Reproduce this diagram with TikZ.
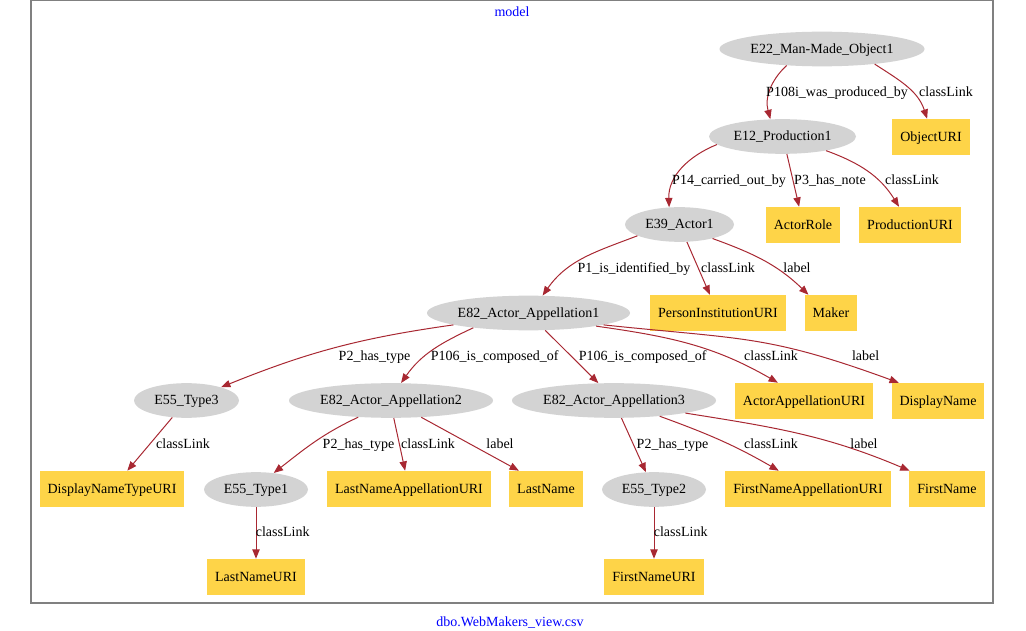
\documentclass[tikz,border=0pt]{standalone}
\usepackage{fontspec}
\setmainfont{Liberation Serif}
\usepackage{xcolor}
\usepackage{tikz}
\usetikzlibrary{shapes.geometric,arrows.meta}
\definecolor{entgray}{RGB}{211,211,211}
\definecolor{litgold}{RGB}{254,212,72}
\definecolor{linkred}{RGB}{168,40,50}
\definecolor{framegray}{RGB}{128,128,128}
\definecolor{capblue}{RGB}{0,0,255}

\begin{document}
\begin{tikzpicture}[x=0.75pt,y=0.75pt,
  font=\fontsize{10.5}{12}\selectfont,
  every node/.style={text height=9pt,text depth=2.5pt},
  ent/.style={ellipse,fill=entgray,inner sep=0pt,minimum height=26pt},
  lit/.style={rectangle,fill=litgold,inner xsep=6pt,minimum height=27pt},
  lbl/.style={inner sep=0pt},
  link/.style={draw=linkred,line width=0.75pt,-{Triangle[length=7pt,width=5.5pt]}}]
\useasboundingbox (0,0) rectangle (1026,-631);
\draw[framegray,line width=1pt] (31,-0.5) rectangle (993,-603);
\node[capblue] (title) at (512,-12) {model};
\node[capblue] (source) at (510,-622) {dbo.WebMakers\_view.csv};

\node[ent,minimum width=153.75pt] (e22) at (822,-49) {E22\_Man-Made\_Object1};
\node[ent,minimum width=110.25pt] (e12) at (782.5,-136.5) {E12\_Production1};
\node[lit] (objuri) at (931,-137) {ObjectURI};
\node[ent,minimum width=81.75pt] (e39) at (679.5,-224.5) {E39\_Actor1};
\node[lit] (role) at (803,-225) {ActorRole};
\node[lit] (produri) at (910,-225) {ProductionURI};
\node[ent,minimum width=152.25pt] (app1) at (528.5,-313) {E82\_Actor\_Appellation1};
\node[lit] (personuri) at (718,-313) {PersonInstitutionURI};
\node[lit] (maker) at (831,-313) {Maker};
\node[ent,minimum width=78.75pt] (type3) at (186.5,-400.5) {E55\_Type3};
\node[ent,minimum width=153pt] (app2) at (391,-400.5) {E82\_Actor\_Appellation2};
\node[ent,minimum width=153pt] (app3) at (614,-400.5) {E82\_Actor\_Appellation3};
\node[lit] (appuri) at (804,-401) {ActorAppellationURI};
\node[lit] (dispname) at (938,-401) {DisplayName};
\node[lit] (dntypeuri) at (112,-489) {DisplayNameTypeURI};
\node[ent,minimum width=78pt] (type1) at (256,-489.5) {E55\_Type1};
\node[lit] (lnappuri) at (409,-489) {LastNameAppellationURI};
\node[lit] (lastname) at (546,-489) {LastName};
\node[ent,minimum width=78pt] (type2) at (654,-489.5) {E55\_Type2};
\node[lit] (fnappuri) at (808,-489) {FirstNameAppellationURI};
\node[lit] (firstname) at (947,-489) {FirstName};
\node[lit] (lnuri) at (256,-577) {LastNameURI};
\node[lit] (fnuri) at (654,-577) {FirstNameURI};

\draw[link] (e22.205) to[out=223,in=105] (e12.125);
\draw[link] (e22.344) to[out=-33,in=108] (objuri.102);
\draw[link] (e12.187) to[out=202,in=92] (e39.121);
\draw[link] (e12.284) -- (role.102);
\draw[link] (e12.342) to[out=-20,in=122] (produri.121);
\draw[link] (e39.195) to[out=201,in=55] (app1.51);
\draw[link] (e39.293) -- (personuri.114);
\draw[link] (e39.337) to[out=-20,in=136] (maker.141);
\draw[link] (app1.189) to[out=188,in=22] (type3.21);
\draw[link] (app1.195) to[out=205,in=55] (app2.60);
\draw[link] (app1.314) -- (app3.132);
\draw[link] (app1.349) to[out=-8,in=150] (appuri.145);
\draw[link] (app1.351) to[out=-6,in=160,looseness=1.2] (dispname.155);
\draw[link] (type3.230) -- (dntypeuri.50);
\draw[link] (app2.207) to[out=205,in=38] (type1.43);
\draw[link] (app2.279) -- (lnappuri.102);
\draw[link] (app2.331) -- (lastname.146);
\draw[link] (app3.293) -- (type2.115);
\draw[link] (app3.341) to[out=-20,in=150] (fnappuri.148);
\draw[link] (app3.350) to[out=-9,in=157] (firstname.154);
\draw[link] (type1) -- (lnuri);
\draw[link] (type2) -- (fnuri);

\node[lbl] (l-produced) at (837,-92) {P108i\_was\_produced\_by};
\node[lbl] (l-objclass) at (946,-92) {classLink};
\node[lbl] (l-carried) at (729,-180) {P14\_carried\_out\_by};
\node[lbl] (l-note) at (830,-180) {P3\_has\_note};
\node[lbl] (l-prodclass) at (912,-180) {classLink};
\node[lbl] (l-identified) at (634,-268) {P1\_is\_identified\_by};
\node[lbl] (l-personclass) at (728,-268) {classLink};
\node[lbl] (l-makerlabel) at (797,-268) {label};
\node[lbl] (l-type3) at (374.5,-356.5) {P2\_has\_type};
\node[lbl] (l-composed2) at (494.7,-356.5) {P106\_is\_composed\_of};
\node[lbl] (l-composed3) at (642.7,-356.5) {P106\_is\_composed\_of};
\node[lbl] (l-appclass) at (771,-356.5) {classLink};
\node[lbl] (l-displabel) at (865.7,-356.5) {label};
\node[lbl] (l-type3class) at (183,-444) {classLink};
\node[lbl] (l-type1) at (358.5,-444) {P2\_has\_type};
\node[lbl] (l-lnappclass) at (428,-444) {classLink};
\node[lbl] (l-lnlabel) at (500,-444) {label};
\node[lbl] (l-type2) at (672.5,-444) {P2\_has\_type};
\node[lbl] (l-fnappclass) at (771,-444) {classLink};
\node[lbl] (l-fnlabel) at (864,-444) {label};
\node[lbl] (l-lnclass) at (282.7,-532) {classLink};
\node[lbl] (l-fnclass) at (680.7,-532) {classLink};
\end{tikzpicture}
\end{document}
